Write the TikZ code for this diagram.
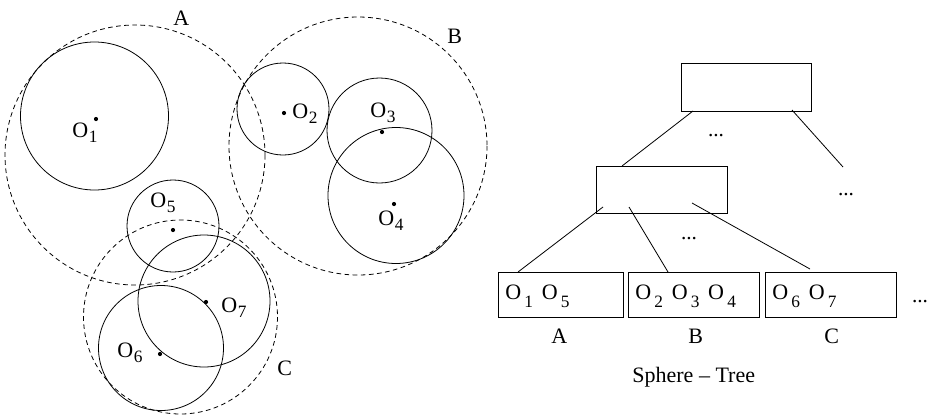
\documentclass[tikz,border=0pt]{standalone}
\usepackage{fontspec}
\setmainfont{Liberation Serif}
\newcommand{\Ob}[1]{O\kern0.4pt\raisebox{-3.8pt}{\fontsize{13}{13}\selectfont #1}}
\newcommand{\Obl}[1]{O\kern2.4pt\raisebox{-6pt}{\fontsize{13}{13}\selectfont #1}}
\newcommand{\Osp}{\hspace{6.5pt}}
\begin{document}
\begin{tikzpicture}[x=0.75pt,y=-0.75pt,line width=0.6pt,
  solidc/.style={draw},
  dashc/.style={draw,dash pattern=on 3.5pt off 2.6pt},
  lbl/.style={anchor=base west,inner sep=0pt,font=\fontsize{16.5}{18}\selectfont},
  dots/.style={anchor=base,inner sep=0pt,font=\fontsize{16}{18}\selectfont},
  boxn/.style={draw,inner sep=0pt},
  ctr/.style={fill=black}]
\useasboundingbox (0,0) rectangle (928,415);
% ---- left: spheres ----
\draw[dashc] (135,155) circle[radius=130];
\draw[dashc] (358,146) circle[radius=129];
\draw[dashc] (180.5,317) circle[radius=97];
\draw[solidc] (94.5,116) circle[radius=74];
\draw[solidc] (283,109) circle[radius=46];
\draw[solidc] (379.5,130.5) circle[radius=52.5];
\draw[solidc] (396,195.5) circle[radius=68];
\draw[solidc] (173,226) circle[radius=46];
\draw[solidc] (204,301) circle[radius=66];
\draw[solidc] (161,348) circle[radius=62.5];
\fill[ctr] (96,119) circle[radius=2.1];
\fill[ctr] (284,113) circle[radius=2.1];
\fill[ctr] (382,132) circle[radius=2.1];
\fill[ctr] (394,204) circle[radius=2.1];
\fill[ctr] (173,230) circle[radius=2.1];
\fill[ctr] (206,302) circle[radius=2.1];
\fill[ctr] (160,354) circle[radius=2.1];
\node[lbl] (l1) at (72,137) {\Ob{1}};
\node[lbl] (l2) at (292,118) {\Ob{2}};
\node[lbl] (l3) at (370,117) {\Ob{3}};
\node[lbl] (l4) at (378,225) {\Ob{4}};
\node[lbl] (l5) at (150,207) {\Ob{5}};
\node[lbl] (l7) at (221,312) {\Ob{7}};
\node[lbl] (l6) at (117,357) {\Ob{6}};
\node[lbl] (sA) at (173,25) {A};
\node[lbl] (sB) at (447,43) {B};
\node[lbl] (sC) at (277,375) {C};
% ---- right: tree ----
\node[boxn,minimum width=97.5pt,minimum height=36pt] (top) at (746,87) {};
\node[boxn,minimum width=98.25pt,minimum height=35.25pt] (mid) at (661.5,189.5) {};
\node[boxn,minimum width=93.75pt,minimum height=33.75pt] (leafA) at (560.5,294.5) {};
\node[boxn,minimum width=98.25pt,minimum height=33.75pt] (leafB) at (693.5,294.5) {};
\node[boxn,minimum width=98.25pt,minimum height=33.75pt] (leafC) at (830.5,294.5) {};
\node[lbl] (tA) at (505,299) {\Obl{1}\Osp\Obl{5}};
\node[lbl] (tB) at (635,299) {\Obl{2}\Osp\Obl{3}\Osp\Obl{4}};
\node[lbl] (tC) at (772,299) {\Obl{6}\Osp\Obl{7}};
\node[lbl] (nA) at (551,343) {A};
\node[lbl] (nB) at (688,343) {B};
\node[lbl] (nC) at (824,343) {C};
\node[lbl] (title) at (632,382) {Sphere -- Tree};
\node[dots] (d1) at (716,136) {...};
\node[dots] (d2) at (846,195) {...};
\node[dots] (d3) at (689,239) {...};
\node[dots] (d4) at (920,302) {...};
\coordinate (t1) at (693,111);
\coordinate (m1) at (622,166);
\coordinate (t2) at (792,110);
\coordinate (e2) at (843,167);
\coordinate (m2) at (603,207);
\coordinate (a1) at (518,272);
\coordinate (m3) at (629,207);
\coordinate (b1) at (668,272);
\coordinate (m4) at (692,203);
\coordinate (c1) at (810,269);
\draw (t1) -- (m1);
\draw (t2) -- (e2);
\draw (m2) -- (a1);
\draw (m3) -- (b1);
\draw (m4) -- (c1);
\end{tikzpicture}
\end{document}
